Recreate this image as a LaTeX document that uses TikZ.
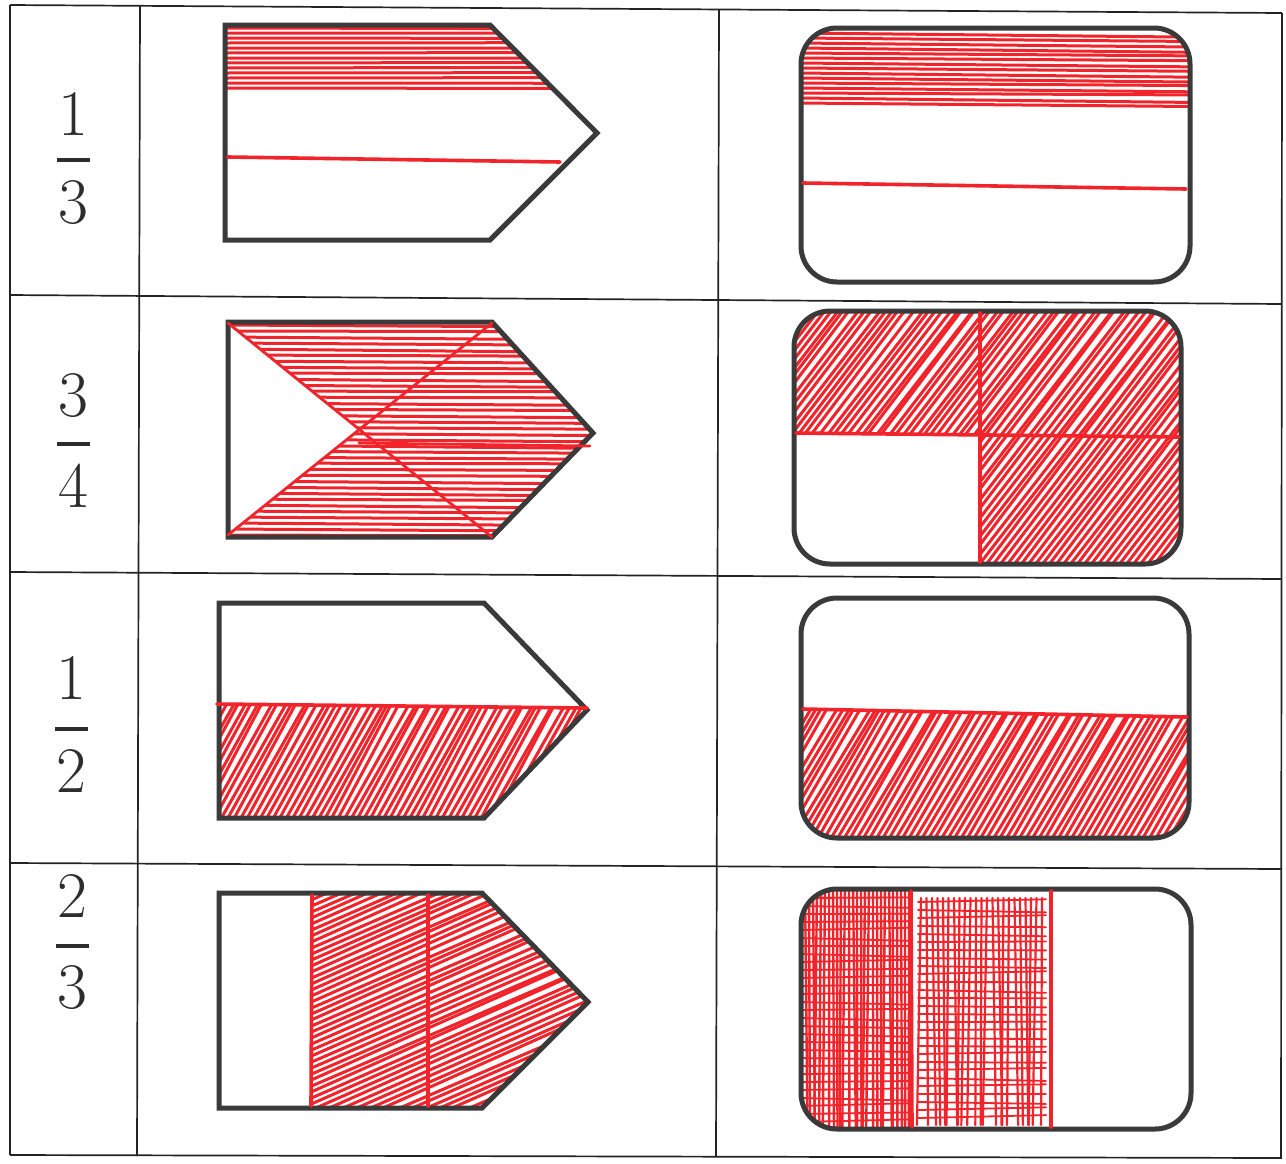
\documentclass[tikz,border=0pt]{standalone}
\begin{document}
\definecolor{pen}{RGB}{240,36,42}
\definecolor{ink}{RGB}{58,58,58}
\definecolor{gridc}{RGB}{35,35,35}
\definecolor{digit}{RGB}{45,45,45}
\begin{tikzpicture}[x=1pt,y=-1pt,
  outline/.style={draw=ink,line width=5pt,line join=miter},
  roundbox/.style={draw=ink,line width=5pt,rounded corners=36pt},
  hatch/.style={draw=pen,line width=3pt,line cap=round},
  divline/.style={draw=pen,line width=3.6pt,line cap=round},
  gridline/.style={draw=gridc,line width=1.7pt},
  fracdigit/.style={font=\fontsize{65}{70}\selectfont,text=digit,inner sep=0pt,anchor=base},
  fracbar/.style={draw=digit,line width=4.5pt}]
\useasboundingbox (0,0) rectangle (1286,1163);
\fill[white] (0,0) rectangle (1286,1163);
\pgfmathsetseed{11}

% ---------- table grid ----------
\draw[gridline] (10,5)--(1282,13);
\draw[gridline] (10,295)--(1282,304);
\draw[gridline] (10,572)--(1282,579);
\draw[gridline] (10,863)--(1282,869);
\draw[gridline] (10,1155)--(1282,1158);
\draw[gridline] (10,5)--(10,1155);
\draw[gridline] (140,5)--(137,1156);
\draw[gridline] (719,10)--(716,1157);
\draw[gridline] (1282,13)--(1281,1158);

% ---------- fractions ----------
\node[fracdigit] (n1) at (73,135) {1};
\node[fracdigit] (d1) at (73,223) {3};
\draw[fracbar] (57,160)--(90,160);
\node[fracdigit] (n2) at (73,416) {3};
\node[fracdigit] (d2) at (73,507) {4};
\draw[fracbar] (57,444)--(90,444);
\node[fracdigit] (n3) at (71,699) {1};
\node[fracdigit] (d3) at (71,792) {2};
\draw[fracbar] (55,729)--(88,729);
\node[fracdigit] (n4) at (72,917) {2};
\node[fracdigit] (d4) at (72,1008) {3};
\draw[fracbar] (56,946)--(89,946);

% ================= ROW 1 =================
\begin{scope}
  \clip (225,25)--(490,25)--(597,133)--(490,240)--(225,240)--cycle;
  \foreach \y in {28,33,...,88} {
    \pgfmathsetmacro\j{rand*1.2}
    \draw[hatch] (224,\y)--(600,\y+\j);
  }
\end{scope}
\draw[outline] (225,25)--(490,25)--(597,133)--(490,240)--(225,240)--cycle;
\draw[divline] (228,157)--(560,162);

\begin{scope}
  \clip[rounded corners=36pt] (801,28) rectangle (1190,282);
  \foreach \y in {33,38,...,106} {
    \pgfmathsetmacro\j{rand*1.5}
    \draw[hatch] (798,\y)--(1195,\y+3+\j);
  }
\end{scope}
\draw[roundbox] (801,28) rectangle (1190,282);
\draw[divline] (803,183)--(1186,189);

% ================= ROW 2 =================
\begin{scope}
  \clip (228,322)--(492,322)--(593,433)--(492,537)--(228,537)--(359,430)--cycle;
  \foreach \y in {325,331,...,537} {
    \pgfmathsetmacro\j{rand*1.5}
    \draw[hatch] (226,\y)--(596,\y+2+\j);
  }
\end{scope}
\draw[outline] (228,322)--(492,322)--(593,433)--(492,537)--(228,537)--cycle;
\draw[divline,line width=2.8pt] (228,323)--(492,537);
\draw[divline,line width=2.8pt] (228,535)--(492,323);
\draw[divline,line width=2.8pt] (359,443)--(590,446);

\begin{scope}
  \clip[rounded corners=36pt] (794,311) rectangle (1181,564);
  \clip (790,305)--(1186,305)--(1186,570)--(980,570)--(980,435)--(790,435)--cycle;
  \foreach \s in {590,597,...,1190} {
    \pgfmathsetmacro\j{rand*3}
    \draw[hatch] (\s,570)--(\s+200+\j,308);
  }
\end{scope}
\draw[roundbox] (794,311) rectangle (1181,564);
\draw[divline] (980,313)--(980,562);
\draw[divline] (796,433)--(1179,437);

% ================= ROW 3 =================
\begin{scope}
  \clip (219,705)--(587,708)--(484,818)--(219,818)--cycle;
  \foreach \s in {140,146.5,...,600} {
    \pgfmathsetmacro\j{rand*3}
    \draw[hatch] (\s,824)--(\s+68+\j,700);
  }
\end{scope}
\draw[outline] (219,603)--(484,603)--(587,710)--(484,818)--(219,818)--cycle;
\draw[divline] (217,704)--(587,708);

\begin{scope}
  \clip[rounded corners=36pt] (801,598) rectangle (1189,838);
  \clip (795,709)--(1195,717)--(1195,845)--(795,845)--cycle;
  \foreach \s in {710,716.5,...,1195} {
    \pgfmathsetmacro\j{rand*3}
    \draw[hatch] (\s,845)--(\s+82+\j,705);
  }
\end{scope}
\draw[roundbox] (801,598) rectangle (1189,838);
\draw[divline] (803,709)--(1187,717);

% ================= ROW 4 =================
\begin{scope}
  \clip (312,893)--(482,893)--(588,1002)--(482,1108)--(312,1108)--cycle;
  \foreach \c in {893,899,...,1240} {
    \pgfmathsetmacro\j{rand*3}
    \draw[hatch] (300,\c)--(620,\c-140+\j);
  }
\end{scope}
\draw[outline] (219,893)--(482,893)--(588,1002)--(482,1108)--(219,1108)--cycle;
\draw[divline] (312,895)--(311,1106);
\draw[divline] (428,895)--(428,1106);

\begin{scope}
  \clip[rounded corners=36pt] (801,889) rectangle (1191,1129);
  \clip (795,880) rectangle (1051,1140);
  % left part: dense verticals
  \foreach \x in {805,809,...,911} {
    \pgfmathsetmacro\j{rand*3}
    \draw[hatch,line width=2.4pt] (\x,885)--(\x+\j,1135);
  }
  \foreach \y in {898,906,...,1128} {
    \pgfmathsetmacro\j{rand*3}
    \draw[hatch,line width=1.8pt] (800,\y)--(911,\y+\j);
  }
  % middle part: cross-hatch
  \foreach \x in {921,926.5,...,1046} {
    \pgfmathsetmacro\j{rand*5}
    \draw[hatch,line width=2.2pt] (\x,898)--(\x+\j,1125);
  }
  \foreach \y in {902,910,...,1122} {
    \pgfmathsetmacro\j{rand*3}
    \draw[hatch,line width=1.8pt] (918,\y)--(1046,\y+\j);
  }
\end{scope}
\draw[roundbox] (801,889) rectangle (1191,1129);
\draw[divline] (911,891)--(912,1127);
\draw[divline] (1051,891)--(1051,1127);
\end{tikzpicture}
\end{document}
